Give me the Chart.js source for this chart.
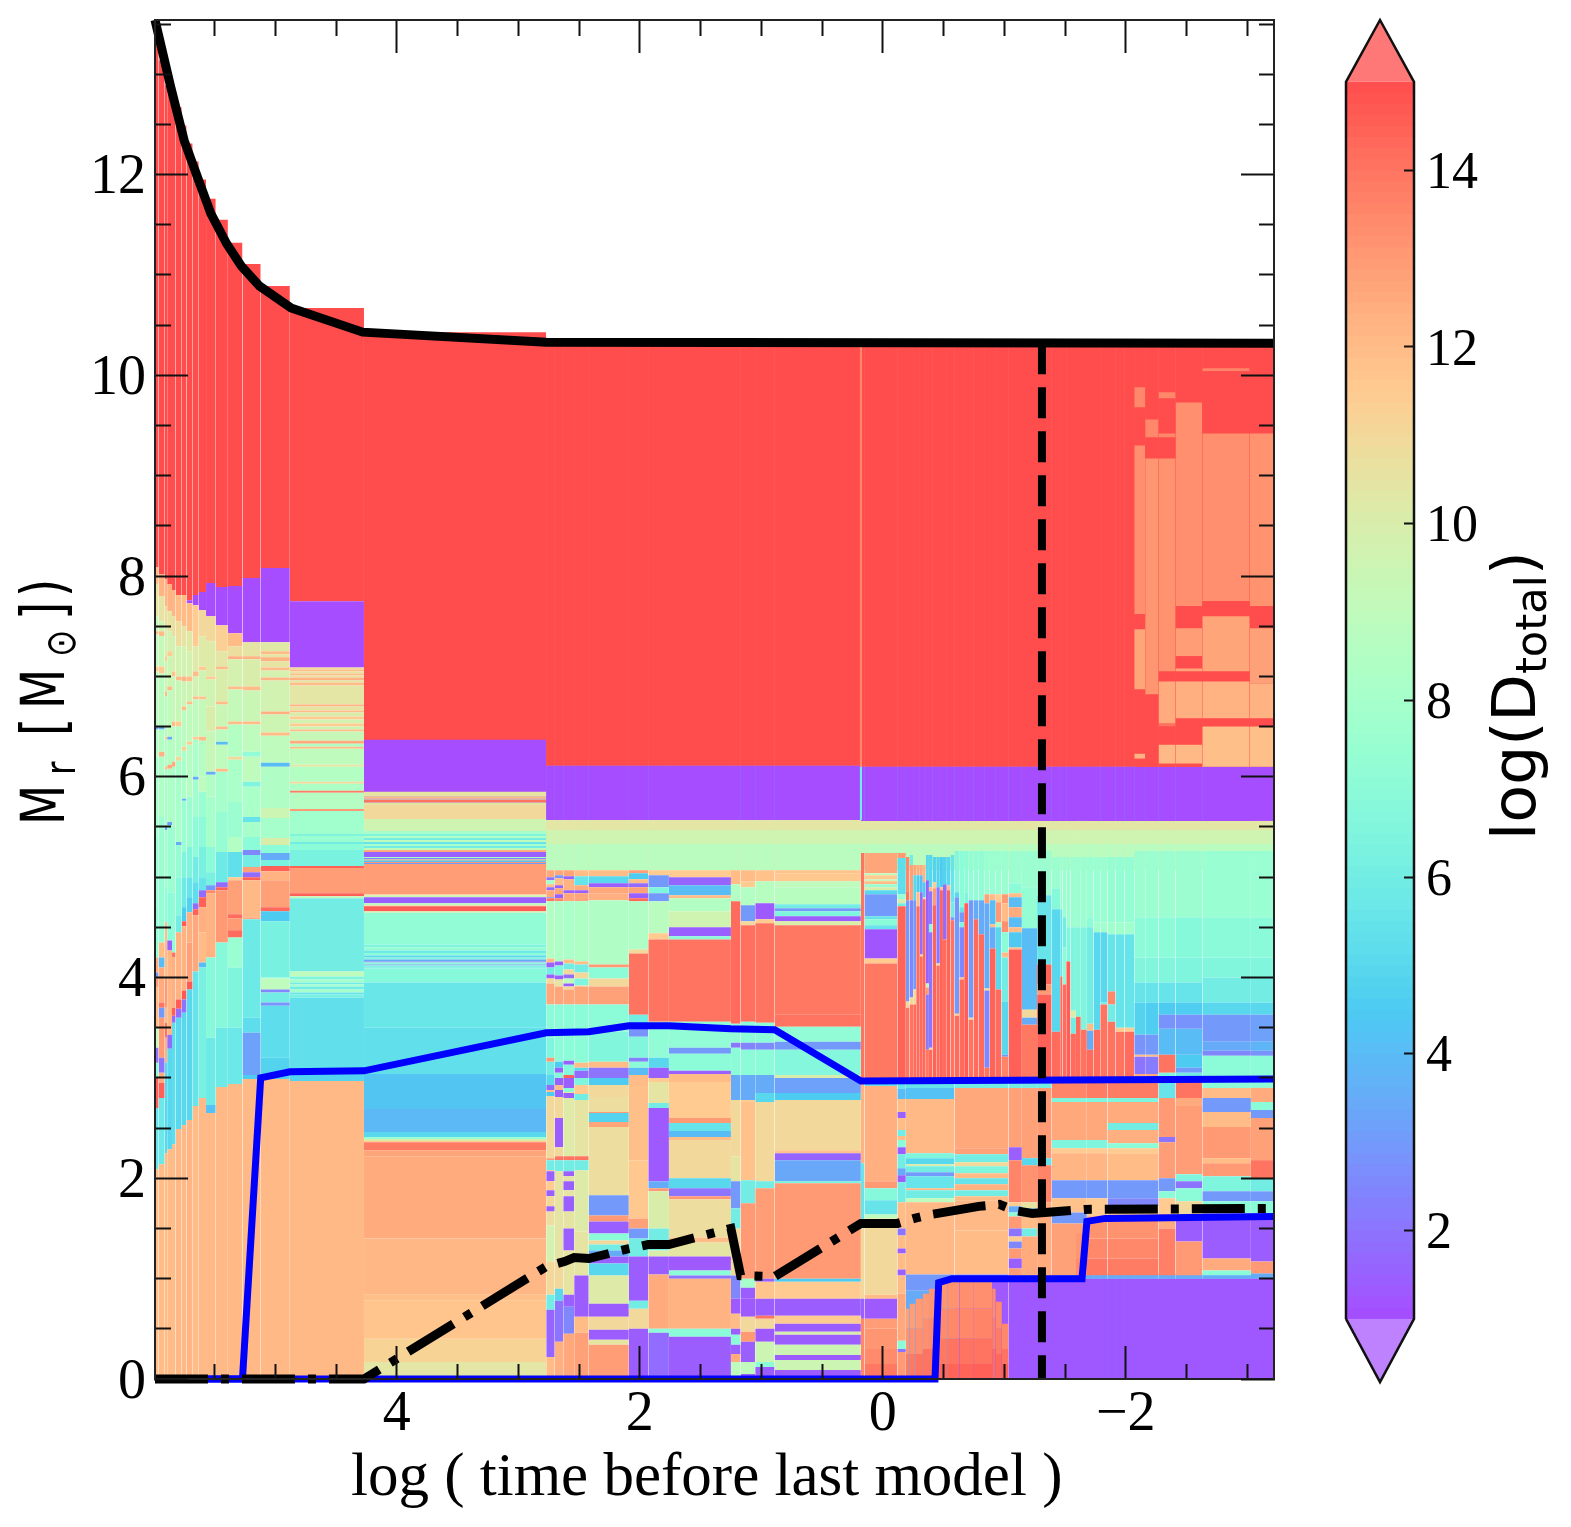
<!DOCTYPE html>
<html>
<head>
<meta charset="utf-8">
<script src="https://cdn.jsdelivr.net/npm/chart.js@4"></script>
<style>
body { margin: 0; background: #fff; }
canvas { position: absolute; top: 0; }
</style>
</head>
<body>
<canvas id="main" width="1300" height="1527" style="left:0"></canvas>
<canvas id="cbar" width="271" height="1527" style="left:1300px"></canvas>
<script>
// each block: [time from, time to, [top Mr, logD, top Mr, logD, ..., bottom Mr]]
const midEdges = [4.27, 2.77, 2.70, 2.63, 2.54, 2.42, 2.09, 1.93, 1.76, 1.25, 1.17, 1.05, 0.89, 0.18];
const rightEdges = [0.18, 0.15, -0.12, -0.19, -0.25, -0.305, -0.354, -0.41, -0.47, -0.527, -0.59, -0.67, -0.747, -0.835, -0.93, -1.035, -1.145, -1.27, -1.39, -1.46, -1.51, -1.59, -1.68, -1.79, -1.915, -1.99, -2.07, -2.165, -2.27, -2.41, -2.63, -3.03, -3.22];
const farEdges = [-1.035, -1.145, -1.27, -1.39, -1.46, -1.51, -1.59, -1.68, -1.735, -1.79, -1.85, -1.915, -1.99, -2.07, -2.165, -2.27, -2.41, -2.63, -3.03, -3.22];
const underlay = [
  [4.27, 0.18, [10.33, 14.6, 6.11, 2, 5.57, 10, 5.07]],
  [0.18, -3.22, [10.32, 14.6, 6.10, 2, 5.56, 10, 5.07]],
  [-1.035, -3.22, [1.0, 1.6, 0]]
];
const midTopBands = [10.33, 15, 6.11, 1, 5.57, 10.4, 5.47, 9.6, 5.33, 8.8, 5.07];
const rightTopBands = [10.32, 15, 6.10, 1, 5.56, 10.4, 5.47, 9.6, 5.33, 8.8, 5.07];
const floorBands = [1.05, 3.5, 1.0, 1.25, 0];

const leftColumns = [
  [5.99, 5.96, [13.54, 15, 8.09, 12, 7.92, 10.5, 7.6, 9.3, 7.45, 12, 7.42, 9, 7.1, 11.5, 7.05, 8.8, 6.5, 3, 6.47, 8.5, 6.2, 8, 5.4, 7.5, 4.7, 7.2, 4.2, 12.5, 4.05, 3, 4.0, 13, 3.9, 12, 3.5, 9, 3.3, 2, 3.15, 7, 3.0, 14.5, 2.7, 5.5, 2.09, 12, 0]],
  [5.96, 5.91, [13.14, 15, 8.02, 12.3, 7.8, 10.5, 7.55, 9.5, 7.45, 12, 7.4, 9.2, 7.1, 11.5, 7.03, 8.8, 6.5, 3.5, 6.47, 8.5, 6.25, 12.3, 6.2, 8.3, 5.6, 7.6, 5.0, 7.3, 4.35, 12, 4.2, 4, 4.1, 12.5, 3.75, 14, 3.7, 3, 3.6, 13, 3.2, 2, 3.05, 12.5, 2.95, 14.5, 2.8, 5.7, 2.14, 12, 0]],
  [5.91, 5.89, [12.89, 15, 7.97, 12.2, 7.7, 10.8, 7.5, 9.8, 7.2, 11.5, 7.15, 9.3, 6.85, 12, 6.8, 8.8, 6.4, 11.5, 6.37, 8.5, 6.1, 12, 6.07, 8, 5.5, 3, 5.47, 7.8, 4.9, 7.2, 4.55, 12, 4.0, 13, 3.7, 12, 3.55, 14, 3.4, 12.4, 3.15, 5, 2.25, 12, 0]],
  [5.89, 5.85, [12.89, 15, 7.92, 12.3, 7.65, 10.5, 7.45, 9.7, 7.25, 11.5, 7.2, 9.5, 6.9, 12, 6.86, 9, 6.4, 3.5, 6.37, 8.5, 6.12, 12.5, 6.08, 8.3, 5.55, 3, 5.52, 7.5, 4.85, 7, 4.37, 1.5, 4.27, 12.2, 3.43, 1.8, 3.29, 5, 2.29, 12, 0]],
  [5.85, 5.82, [12.67, 15, 7.86, 12.2, 7.6, 10.7, 7.4, 9.8, 7.05, 11.8, 7.0, 9.3, 6.55, 12, 6.5, 8.7, 6.15, 12.5, 6.1, 8.2, 5.5, 7.6, 4.85, 7.2, 4.25, 14, 4.2, 12.4, 3.70, 14.6, 3.62, 1.8, 3.55, 5.2, 2.34, 12, 0]],
  [5.82, 5.77, [12.67, 15, 7.81, 12, 7.55, 10.8, 7.3, 9.7, 7.0, 12, 6.96, 9.3, 6.55, 11.5, 6.5, 8.6, 6.2, 11, 6.16, 8.1, 5.35, 3.5, 5.32, 7.4, 5.0, 6.8, 4.62, 6, 4.45, 12.3, 3.78, 14.6, 3.69, 1.8, 3.6, 5, 2.49, 12.1, 0]],
  [5.77, 5.73, [12.49, 15, 7.81, 12, 7.5, 10.5, 7.3, 9.7, 7.0, 12.3, 6.95, 9.4, 6.7, 12, 6.66, 8.8, 6.3, 11.3, 6.26, 8.2, 5.78, 3.5, 5.76, 7.5, 5.25, 6.5, 5.0, 5.8, 4.7, 4.5, 4.56, 14.6, 4.51, 12.3, 3.87, 14.7, 3.78, 2, 3.65, 5, 2.53, 12.1, 0]],
  [5.73, 5.68, [12.31, 15, 7.76, 1, 7.73, 12, 7.45, 10.3, 7.25, 9.8, 7.0, 12, 6.95, 9.5, 6.75, 12, 6.72, 9, 6.35, 11.5, 6.32, 8.6, 5.8, 7.6, 5.3, 6.5, 5.0, 5.5, 4.8, 4.7, 4.65, 12.4, 4.35, 12.8, 3.96, 14.7, 3.88, 5, 2.58, 12.2, 0]],
  [5.68, 5.63, [12.13, 15, 7.81, 1, 7.71, 11.5, 7.3, 10.2, 7.05, 12, 7.0, 9.7, 6.8, 12, 6.77, 9, 6.4, 11.5, 6.37, 8.2, 6.0, 3.5, 5.97, 7.8, 5.6, 7, 5.2, 6, 4.95, 5.2, 4.74, 1.8, 4.68, 14.5, 4.62, 12.6, 4.06, 5.5, 2.72, 12, 0]],
  [5.63, 5.57, [11.95, 15, 7.84, 1, 7.66, 11, 7.4, 10.2, 7.1, 11.5, 7.06, 9.6, 6.8, 11.8, 6.77, 9.2, 6.4, 12, 6.36, 8.6, 6.0, 9, 5.85, 7.5, 5.6, 7, 5.3, 6.2, 5.0, 5.5, 4.87, 1.8, 4.80, 14.5, 4.7, 12.4, 4.45, 12, 4.15, 4, 4.1, 6.2, 2.80, 12.1, 0]],
  [5.57, 5.49, [11.76, 15, 7.93, 1, 7.60, 11, 7.35, 10.2, 7.0, 11.5, 6.97, 9.6, 6.7, 10, 6.45, 9.3, 6.05, 3.5, 6.02, 8.4, 5.8, 8, 5.3, 7, 5.05, 6.2, 4.92, 3, 4.87, 13.5, 4.84, 12.3, 4.2, 6.8, 3.4, 5.8, 2.73, 4.2, 2.65, 12.1, 0]],
  [5.49, 5.39, [11.55, 15, 7.89, 1, 7.51, 11.3, 7.25, 10.4, 7.1, 12, 7.07, 10, 6.75, 12, 6.72, 9.4, 6.5, 12, 6.47, 8.8, 6.35, 4, 6.32, 9, 6.08, 12, 6.05, 8, 5.65, 7.4, 5.25, 5.8, 4.95, 1.8, 4.9, 14.5, 4.87, 13, 4.35, 6.8, 3.5, 5.8, 2.91, 12.1, 0]],
  [5.39, 5.27, [11.32, 15, 7.90, 1, 7.43, 12, 7.3, 10.8, 7.2, 12.4, 7.17, 9.8, 6.9, 12, 6.87, 9.2, 6.55, 12, 6.52, 8.5, 6.2, 11, 6.17, 8.2, 5.75, 7.6, 5.4, 8.5, 5.25, 5.3, 5.0, 11.5, 4.97, 12.8, 4.63, 14.2, 4.59, 13, 4.47, 14.2, 4.4, 7.5, 4.1, 6.5, 3.5, 5.7, 2.94, 12.1, 0]],
  [5.27, 5.12, [11.11, 15, 7.98, 1, 7.34, 10.5, 7.2, 12.3, 7.17, 10, 6.9, 12, 6.86, 9.4, 6.55, 12, 6.52, 9, 6.25, 7.2, 6.2, 9, 5.95, 6.5, 5.9, 8.2, 5.6, 5.5, 5.55, 8, 5.4, 7, 5.27, 2.5, 5.22, 6, 5.1, 12.8, 5.05, 1.8, 5.0, 14.5, 4.97, 12.1, 4.6, 12.5, 4.58, 5.8, 3.6, 5.2, 3.45, 3.2, 3.03, 4.5, 2.99, 12.1, 0]],
  [5.12, 4.88, [10.89, 15, 8.08, 1, 7.34, 10.3, 7.25, 12, 7.22, 10.5, 7.19, 12.3, 7.15, 10.5, 7.09, 12, 7.06, 9.8, 6.99, 12.2, 6.96, 9.7, 6.65, 12.4, 6.62, 9.5, 6.44, 12, 6.41, 9, 6.14, 4, 6.10, 8.4, 5.69, 9.5, 5.59, 8, 5.39, 10, 5.32, 7, 5.24, 3.5, 5.17, 6.2, 5.11, 14.5, 5.06, 12.3, 4.97, 12.8, 4.70, 14.3, 4.66, 4.5, 4.56, 6.2, 4.0, 7, 3.99, 9, 3.88, 2.5, 3.85, 6, 3.75, 2.8, 3.72, 5.2, 3.2, 4.8, 2.99, 12.1, 0]],
  [4.88, 4.27, [10.67, 15, 7.75, 1, 7.09, 11, 7.07, 12, 7.05, 10.5, 7.03, 12, 7.01, 10.5, 6.99, 12.3, 6.96, 10.3, 6.94, 12, 6.91, 10.4, 6.72, 12.3, 6.70, 10.5, 6.66, 12, 6.64, 10, 6.60, 11.5, 6.57, 9.7, 6.53, 11.5, 6.50, 9.5, 6.47, 12, 6.45, 9.3, 6.36, 12.5, 6.33, 8.5, 6.30, 12, 6.28, 9, 6.12, 10.5, 6.10, 8.5, 5.95, 11, 5.93, 8.3, 5.86, 13.8, 5.84, 8.6, 5.68, 13, 5.66, 7.8, 5.43, 6.5, 5.41, 7.5, 5.35, 6, 5.33, 7, 5.27, 6.3, 5.11, 14.5, 5.09, 12.9, 4.84, 14.5, 4.81, 9, 4.79, 6, 4.06, 9, 4.01, 6.5, 3.98, 8, 3.95, 6, 3.93, 8, 3.91, 6, 3.88, 8, 3.85, 5.5, 3.83, 6.2, 3.80, 5.3, 3.04, 4.8, 2.97, 12.1, 0]],
  [4.27, 2.77, [10.43, 15, 6.37, 1, 5.85, 10.5, 5.80, 12, 5.78, 9.8, 5.77, 14, 5.745, 10.5, 5.72, 11, 5.58, 9.6, 5.46, 8, 5.43, 6.5, 5.41, 8.5, 5.39, 6, 5.37, 9, 5.35, 5.5, 5.33, 8, 5.31, 6, 5.29, 9, 5.27, 12.5, 5.25, 1.5, 5.20, 8, 5.19, 2.5, 5.175, 12, 5.165, 4, 5.15, 13, 5.14, 3, 5.13, 12.9, 4.83, 11.5, 4.82, 9.5, 4.80, 1.5, 4.74, 9, 4.72, 11, 4.71, 14.6, 4.66, 10, 4.645, 7.2, 4.33, 6.5, 4.30, 7.3, 4.27, 5.8, 4.245, 7, 4.22, 5, 4.20, 6.5, 4.18, 3.5, 4.16, 2.5, 4.15, 7, 4.13, 3, 4.12, 6.5, 4.10, 5.5, 4.09, 6.8, 3.95, 5.6, 3.5, 5.3, 3.04, 4.3, 2.69, 3.9, 2.46, 5, 2.41, 7.5, 2.39, 10, 2.37, 11.5, 2.36, 13.8, 2.28, 12.7, 2.22, 12.5, 1.40, 12.15, 0.84, 11.9, 0.78, 11.7, 0.40, 11.2, 0.17, 10.4, 0]]
];

const midColumns = [
  [2.77, 2.70, [5.07, 12.6, 5.0, 2, 4.97, 8, 4.93, 12, 4.9, 1.8, 4.87, 12.6, 4.80, 3, 4.79, 14, 4.76, 8.5, 4.19, 12, 4.15, 1.5, 4.10, 6, 4.03, 1.5, 3.99, 11, 3.94, 12.6, 3.73, 7, 3.4, 6.5, 3.20, 13, 3.16, 6, 3.03, 5, 2.93, 1.8, 2.88, 12, 2.86, 4.5, 2.82, 11, 2.2, 13, 2.18, 6, 2.08, 12, 2.07, 1.5, 1.97, 11.5, 1.88, 1.5, 1.82, 11, 1.72, 1.5, 1.67, 10.8, 1.53, 9.8, 1.17, 11, 0.84, 6, 0.69, 1.6, 0.22, 12, 0]],
  [2.70, 2.63, [5.07, 12.6, 5.02, 3, 4.99, 12, 4.92, 1.5, 4.89, 12.7, 4.83, 1.5, 4.79, 13.5, 4.76, 8.3, 4.16, 1.5, 4.12, 6.5, 4.02, 1.5, 3.98, 10.5, 3.91, 12.7, 3.73, 7, 3.16, 4.5, 3.1, 1.5, 3.05, 6.8, 3.0, 1.5, 2.93, 12, 2.88, 1.5, 2.81, 11, 2.60, 1.4, 2.31, 11, 2.22, 14, 2.18, 6, 2.07, 10.5, 1.20, 11, 0.90, 5, 0.78, 2, 0.37, 12.4, 0]],
  [2.63, 2.54, [5.07, 12.7, 5.01, 1.5, 4.98, 12.3, 4.87, 1.5, 4.84, 12.6, 4.76, 8.2, 4.18, 12, 4.14, 6, 4.08, 11, 4.03, 1.8, 3.99, 9, 3.94, 1.5, 3.91, 11, 3.88, 12.7, 3.73, 7, 3.17, 1.5, 3.13, 6.8, 3.03, 14.5, 3.0, 1.5, 2.9, 7, 2.86, 10.5, 2.85, 1.5, 2.8, 10.2, 2.22, 14, 2.18, 6, 2.07, 1.5, 2.02, 10.5, 1.97, 1.5, 1.88, 10.5, 1.82, 1.5, 1.67, 10.5, 1.50, 1.5, 1.28, 10.5, 0.84, 1.5, 0.72, 2.5, 0.45, 12.6, 0]],
  [2.54, 2.42, [5.07, 12, 5.01, 5.5, 4.92, 12.5, 4.87, 1.5, 4.84, 12.7, 4.76, 8.3, 4.16, 12, 4.13, 6, 4.05, 11, 3.99, 6.5, 3.92, 11, 3.91, 12.7, 3.73, 7, 3.15, 12, 3.1, 5, 3.07, 1.8, 3.0, 6.5, 2.93, 11.5, 2.84, 6, 2.78, 10.5, 2.22, 14, 2.18, 6, 2.08, 10.2, 1.47, 10.5, 1.03, 1.4, 0.62, 12, 0.46, 12.8, 0]],
  [2.42, 2.09, [5.07, 12, 5.01, 5, 4.94, 1.5, 4.90, 12.6, 4.84, 12.4, 4.77, 8.4, 4.13, 13, 4.10, 7, 3.99, 11, 3.91, 12.8, 3.73, 7, 3.46, 6.6, 3.16, 12, 3.10, 2, 3.0, 4.5, 2.93, 11, 2.81, 10.8, 2.66, 13, 2.65, 4.8, 2.56, 12.7, 2.51, 10.8, 1.83, 3, 1.63, 13, 1.57, 1.5, 1.45, 7, 1.38, 11, 1.34, 6, 1.28, 3.5, 1.22, 1.5, 1.15, 5, 1.03, 10.2, 0.75, 1.4, 0.62, 11, 0.49, 1.4, 0.39, 10.5, 0.34, 12.9, 0]],
  [2.09, 1.93, [5.07, 12.9, 5.04, 4.5, 4.98, 12, 4.94, 1.8, 4.90, 12.8, 4.84, 1.5, 4.79, 14.3, 4.76, 8.4, 4.28, 11, 4.24, 14, 3.63, 6, 3.5, 2.8, 3.41, 6.6, 3.2, 2.3, 3.16, 7, 3.1, 4, 3.03, 12, 2.93, 11.9, 2.18, 11.6, 1.60, 12.8, 1.5, 3, 1.40, 6, 1.22, 1.4, 0.78, 6, 0.70, 11, 0.50, 1.4, 0]],
  [1.93, 1.76, [5.07, 11.5, 5.02, 3, 4.9, 6.5, 4.84, 3, 4.76, 8.8, 4.44, 11.5, 4.38, 14, 3.56, 7.2, 3.2, 5, 3.1, 1.5, 3.0, 11.5, 2.96, 10.5, 2.75, 6, 2.7, 1.3, 1.97, 3.5, 1.9, 13, 1.87, 10, 1.5, 6, 1.28, 10, 1.22, 1.4, 1.04, 12.5, 0.50, 7, 0.46, 1.8, 0]],
  [1.76, 1.25, [5.07, 11.5, 5.0, 1.6, 4.92, 4, 4.82, 12, 4.79, 8.5, 4.66, 9.6, 4.50, 1.5, 4.41, 7, 4.38, 14, 3.56, 7.2, 3.3, 3, 3.24, 7, 3.07, 1.5, 3.04, 12, 2.96, 11.5, 2.6, 13, 2.55, 5.5, 2.47, 4, 2.41, 12, 2.38, 11, 2.0, 5, 1.9, 2, 1.82, 13, 1.79, 10.8, 1.41, 12, 1.36, 10.5, 1.22, 1.3, 1.08, 7, 1.03, 2, 1.0, 12.3, 0.50, 7, 0.42, 1.4, 0]],
  [1.25, 1.17, [5.07, 12, 4.93, 8.5, 4.76, 14.2, 3.54, 7.2, 3.35, 2, 3.3, 7, 3.03, 3.5, 2.78, 11, 2.22, 10.5, 1.97, 3, 1.70, 6, 1.5, 11, 1.03, 2.5, 0.80, 1.3, 0.65, 12, 0.50, 1.4, 0.44, 7, 0.34, 1.5, 0.25, 12.5, 0.17, 9, 0]],
  [1.17, 1.05, [5.07, 12, 4.96, 11.5, 4.9, 8.5, 4.72, 3, 4.56, 11, 4.52, 14.1, 3.56, 7, 3.35, 2.4, 3.28, 7, 3.03, 3.5, 2.78, 11.5, 2.76, 11.8, 1.98, 6, 1.75, 13, 1.0, 8, 0.91, 1.4, 0.80, 1.3, 0.62, 11, 0.47, 13, 0.37, 1.5, 0.28, 1.5, 0.17, 9, 0.05, 1.5, 0]],
  [1.05, 0.89, [5.07, 11.8, 4.96, 8.7, 4.74, 1.3, 4.58, 11.5, 4.54, 14, 3.55, 7, 3.35, 2.6, 3.28, 7, 3.03, 3.5, 2.85, 5, 2.76, 11, 1.97, 6, 1.90, 12.9, 1.0, 1.5, 0.97, 11.7, 0.80, 1.4, 0.63, 14, 0.60, 11, 0.50, 1.3, 0.37, 9.5, 0.17, 7, 0.12, 1.4, 0.03, 10, 0]],
  [0.89, 0.18, [5.07, 11.8, 5.04, 11.6, 4.96, 9, 4.90, 8.7, 4.73, 6, 4.69, 3, 4.66, 6.5, 4.61, 1.4, 4.56, 10, 4.52, 13.9, 3.63, 14, 3.51, 7.2, 3.36, 3, 3.28, 6.7, 3.03, 10, 3.0, 3.2, 2.85, 4.5, 2.78, 11, 2.28, 11.8, 2.25, 1.6, 2.18, 3.4, 1.97, 6.2, 1.95, 13, 1.0, 4.5, 0.97, 11.5, 0.80, 1.4, 0.63, 11.5, 0.55, 1.4, 0.47, 10, 0.44, 1.4, 0.34, 9.5, 0.24, 1.4, 0.19, 9.5, 0.09, 1.4, 0.02, 9, 0]]
];

const spikeColumns = [
  [0.18, 0.15, [5.24, 14, 3.0]],
  [0.15, -0.12, [5.24, 12.7, 5.04, 9, 5.02, 11.5, 4.98, 9.5, 4.96, 12, 4.93, 7.5, 4.9, 10, 4.87, 5, 4.83, 3, 4.61, 5.5, 4.58, 7, 4.52, 5.5, 4.48, 1.2, 4.19, 11.5, 4.14, 13.9, 2.99]],
  [-0.12, -0.19, [5.24, 13, 5.19, 5.2, 4.83, 7.5, 4.78, 10, 4.74, 6, 4.71, 14.4, 2.99]],
  [-0.19, -0.22, [5.2, 13.5, 4.86, 14, 4.77, 3, 3.76, 11, 3.7, 14, 3.0]],
  [-0.22, -0.25, [5.22, 6, 5.12, 12.8, 4.77, 2.5, 3.8, 11, 3.73, 14, 3.0]],
  [-0.25, -0.275, [5.12, 12.7, 5.02, 5, 4.77, 3, 3.88, 11, 3.73, 14.2, 3.0]],
  [-0.275, -0.305, [5.12, 12.5, 5.02, 4.5, 4.85, 12, 4.71, 14.2, 3.0]],
  [-0.305, -0.33, [5.12, 12.5, 5.02, 4, 4.85, 1.8, 4.23, 11, 4.21, 14.2, 3.0]],
  [-0.33, -0.354, [5.12, 12.2, 4.95, 4.5, 4.80, 11.5, 4.78, 14.3, 3.0]],
  [-0.354, -0.38, [5.22, 5, 4.97, 1.5, 3.94, 9, 3.9, 13, 3.83, 2.2, 3.28, 13.9, 3.0]],
  [-0.38, -0.41, [5.22, 5, 4.90, 12, 4.86, 2, 4.53, 7, 4.45, 2, 3.30, 11, 3.28, 14.2, 3.0]],
  [-0.41, -0.44, [5.2, 4.8, 4.95, 11.5, 4.89, 13, 4.72, 14.4, 3.0]],
  [-0.44, -0.47, [5.2, 4.8, 4.9, 2, 4.14, 11, 4.12, 14.2, 3.0]],
  [-0.47, -0.495, [5.2, 4.5, 4.9, 12, 4.87, 14.4, 3.0]],
  [-0.495, -0.527, [5.2, 4.8, 4.93, 1.8, 4.38, 14.2, 3.0]],
  [-0.527, -0.557, [5.2, 5, 4.92, 12, 4.87, 14.4, 3.0]],
  [-0.557, -0.59, [5.22, 5.5, 4.75, 6, 4.6, 3, 4.57, 14, 3.0]],
  [-0.59, -0.63, [5.26, 6.7, 4.85, 5, 4.8, 3, 3.64, 11.5, 3.62, 14.2, 3.0]],
  [-0.63, -0.67, [5.26, 7, 4.7, 5.5, 4.65, 3, 4.55, 6.5, 4.50, 2.5, 4.0, 12, 3.98, 14.2, 3.0]],
  [-0.67, -0.705, [5.26, 7, 4.85, 6.5, 4.74, 14.6, 3.0]],
  [-0.705, -0.747, [5.26, 7.2, 4.77, 3, 3.6, 11, 3.58, 14, 3.0]],
  [-0.747, -0.788, [5.26, 7.2, 4.77, 3.5, 4.58, 14.2, 3.0]],
  [-0.788, -0.835, [5.26, 7.2, 4.77, 3.5, 4.43, 14.2, 3.0]],
  [-0.835, -0.88, [5.26, 7.5, 4.83, 12.8, 4.74, 3.5, 3.89, 11, 3.87, 2.5, 3.1, 14, 3.0]],
  [-0.88, -0.93, [5.26, 7.5, 4.83, 12, 4.77, 4, 4.53, 12, 4.5, 3.5, 4.29, 14.4, 3.0]],
  [-0.93, -0.977, [5.26, 7.5, 4.83, 11.5, 4.75, 13, 4.55, 8, 4.5, 5, 3.88, 14.2, 3.0]],
  [-0.977, -1.035, [5.26, 7.6, 4.83, 13, 4.74, 12, 4.56, 13.3, 4.45, 7, 4.25, 12, 4.2, 6, 3.76, 5, 3.23, 3, 3.21, 13.6, 3.0]],
  [-1.035, -1.145, [5.26, 7.6, 4.94, 7, 4.84, 12, 4.8, 4, 4.7, 12.5, 4.6, 4, 4.5, 12, 4.45, 4.4, 4.3, 12, 4.28, 14.5, 3.0]],
  [-1.145, -1.27, [5.26, 7.6, 4.9, 7.3, 4.49, 4, 3.68, 11, 3.6, 3.5, 3.53, 13.9, 3.0]],
  [-1.27, -1.39, [5.26, 7.6, 4.82, 5.5, 4.13, 14.4, 3.93, 13, 3.83, 14.5, 3.0]],
  [-1.39, -1.46, [5.2, 7.6, 4.89, 6.8, 4.68, 5, 3.46, 14.2, 3.0]],
  [-1.46, -1.48, [5.2, 7.6, 4.68, 5.5, 4.01, 14.2, 3.0]],
  [-1.48, -1.51, [5.2, 7.6, 4.6, 6, 4.3, 7, 3.93, 14.2, 3.0]],
  [-1.51, -1.545, [5.2, 7.6, 4.5, 6.5, 4.16, 14.6, 3.0]],
  [-1.545, -1.59, [5.2, 7.6, 4.5, 6.5, 3.67, 10, 3.6, 6, 3.44, 14.2, 3.0]],
  [-1.59, -1.63, [5.2, 7.6, 4.5, 6.5, 3.61, 14.2, 3.0]],
  [-1.63, -1.68, [5.2, 7.6, 4.5, 6.5, 3.48, 14, 3.0]],
  [-1.68, -1.735, [5.2, 7.5, 4.6, 7, 4.5, 6, 3.54, 12, 3.47, 3.5, 3.28, 14.2, 3.0]],
  [-1.735, -1.79, [5.2, 7.5, 4.55, 7.8, 4.45, 5, 3.48, 14.2, 3.0]],
  [-1.79, -1.85, [5.2, 7.5, 4.55, 7.8, 4.45, 5, 3.75, 6, 3.73, 14, 3.0]],
  [-1.85, -1.915, [5.2, 7.4, 4.55, 7.8, 4.43, 5.5, 3.86, 13.5, 3.73, 6, 3.56, 14, 3.0]],
  [-1.915, -1.99, [5.2, 7.3, 4.55, 7.8, 4.43, 5.5, 3.5, 11.5, 3.46, 14, 3.0]],
  [-1.99, -2.07, [5.2, 7.3, 4.55, 7.8, 4.43, 5.5, 3.5, 11.5, 3.46, 14.2, 3.0]],
  [-2.07, -2.165, [5.26, 7.6, 4.6, 7, 4.2, 6.6, 3.95, 5.5, 3.75, 4.8, 3.43, 2.8, 3.23, 12, 3.21, 2, 3.04, 12.5, 3.0]],
  [-2.165, -2.27, [5.26, 7.6, 4.6, 7, 4.2, 6.6, 3.95, 5.5, 3.75, 4.6, 3.43, 3, 3.23, 12, 3.21, 2.2, 3.04, 12.5, 3.0]],
  [-2.27, -2.41, [5.26, 7.6, 4.6, 7, 4.2, 6.6, 3.95, 5.5, 3.75, 4.5, 3.63, 2.8, 3.49, 4, 3.23, 14, 3.05, 6.5, 3.0]],
  [-2.41, -2.63, [5.26, 7.6, 4.6, 6.8, 4.2, 6.5, 3.95, 5.5, 3.75, 4.6, 3.63, 2.8, 3.49, 4, 3.23, 4.5, 3.1, 3, 3.05, 6, 3.0]],
  [-2.63, -3.03, [5.26, 7.5, 4.6, 6.9, 4.2, 6.6, 4.0, 6, 3.75, 5, 3.63, 3, 3.36, 3.5, 3.27, 2.5, 3.22, 7, 3.0]],
  [-3.03, -3.22, [5.26, 7.5, 4.6, 6.9, 4.2, 6.6, 4.0, 6, 3.75, 5, 3.63, 3.2, 3.36, 3.8, 3.27, 2.8, 3.22, 7, 3.0]]
];

const lowerColumns = [
  [0.18, 0.15, [3.0, 12.3, 2.15, 5.5, 1.5, 11, 0.8, 1.5, 0.6, 13.5, 0]],
  [0.15, -0.12, [2.99, 5.5, 2.92, 12.4, 1.97, 13, 1.90, 6.8, 1.78, 5.5, 1.64, 9, 1.6, 11, 0.84, 12, 0.80, 1.3, 0.60, 12.9, 0.5, 13.1, 0.3, 13.4, 0.15, 13.9, 0]],
  [-0.12, -0.19, [2.99, 5.5, 2.89, 4, 2.79, 12, 2.66, 1.5, 2.6, 12, 2.48, 6, 2.42, 12, 2.38, 7, 2.31, 1.5, 2.24, 6, 2.1, 3.5, 2.03, 1.5, 1.96, 6, 1.76, 12, 1.5, 2, 1.43, 12, 1.3, 1.5, 1.25, 12, 1.09, 1.5, 1.03, 12, 0.85, 12.6, 0.38, 7, 0.3, 2, 0.27, 13, 0]],
  [-0.19, -0.59, [2.99, 5.5, 2.9, 4.2, 2.79, 12.1, 2.25, 6.5, 2.2, 5, 2.14, 10, 2.12, 6, 2.06, 3, 2.02, 5.5, 1.9, 12, 1.88, 6, 1.8, 9, 1.76, 12.1, 1.04, 3, 0.88, 3.5, 0]],
  [-0.59, -1.035, [2.99, 6, 2.9, 12.6, 2.3, 12.8, 2.24, 6, 2.16, 11, 2.12, 6.5, 2.05, 12, 2.0, 5.5, 1.94, 12.3, 1.88, 6, 1.82, 12, 1.78, 12.1, 1.48, 12, 1.04, 2.5, 0.97, 1.3, 0]],
  [-0.19, -0.22, [0.7, 12.8, 0.5, 13.2, 0.25, 13.8, 0]],
  [-0.22, -0.27, [0.75, 12.9, 0.5, 13.3, 0.25, 13.9, 0]],
  [-0.27, -0.33, [0.8, 13, 0.5, 13.3, 0.25, 14, 0]],
  [-0.33, -0.38, [0.85, 13, 0.6, 13.3, 0.3, 14, 0]],
  [-0.38, -0.44, [0.9, 13.1, 0.6, 13.4, 0.3, 14, 0]],
  [-0.44, -0.53, [0.96, 13.1, 0.7, 13.4, 0.4, 13.9, 0.15, 14.3, 0]],
  [-0.53, -0.63, [0.97, 13.2, 0.7, 13.5, 0.4, 14, 0.15, 14.4, 0]],
  [-0.63, -0.75, [0.97, 13.3, 0.7, 13.5, 0.4, 14, 0.15, 14.4, 0]],
  [-0.75, -0.90, [0.97, 13.3, 0.7, 13.6, 0.4, 14, 0.15, 14.5, 0]],
  [-0.90, -0.93, [0.90, 13.4, 0.6, 13.7, 0.3, 14.2, 0]],
  [-0.93, -0.98, [0.77, 13.4, 0.5, 13.8, 0.25, 14.3, 0]],
  [-0.98, -1.035, [0.55, 13.5, 0.3, 14, 0.15, 14.5, 0]],
  [-1.035, -1.145, [2.99, 6, 2.9, 12.8, 2.31, 1.5, 2.18, 13.6, 1.76, 11.5, 1.72, 3.5, 1.66, 7, 1.62, 13, 1.5, 2, 1.42, 11.5, 1.37, 2.5, 1.3, 13, 1.2, 1.5, 1.1, 13, 1.03, 12, 1.0]],
  [-1.145, -1.27, [2.99, 6, 2.9, 12.8, 2.2, 5, 2.13, 13.2, 1.76, 10.5, 1.7, 4, 1.62, 12, 1.5, 6, 1.42, 12.5, 1.03, 3, 1.0]],
  [-1.27, -1.39, [2.99, 6, 2.9, 13, 2.2, 5.5, 2.13, 13.6, 1.76, 12.5, 1.0]],
  [-1.39, -1.68, [2.99, 13.6, 2.8, 6.5, 2.76, 12.6, 2.38, 6.5, 2.3, 11.5, 2.25, 12.2, 1.98, 3, 1.8, 11.8, 1.66, 3, 1.55, 12.8, 1.03, 3.5, 1.0]],
  [-1.59, -1.68, [1.45, 13.1, 1.2, 13.4, 1.03, 3.5, 1.0]],
  [-1.68, -1.85, [2.99, 13.8, 2.8, 6.5, 2.76, 12.6, 2.38, 6.5, 2.3, 11.5, 2.25, 12.2, 1.98, 3, 1.8, 11.5, 1.62, 13.2, 1.4, 13.5, 1.2, 13.9, 1.03, 3.5, 1.0]],
  [-1.85, -2.27, [2.99, 13.8, 2.8, 6.5, 2.76, 12.5, 2.55, 6, 2.48, 12.4, 2.35, 7, 2.3, 11.5, 2.25, 12, 1.98, 3, 1.8, 2.5, 1.72, 11.5, 1.62, 13.2, 1.4, 13.5, 1.2, 13.8, 1.03, 3.5, 1.0]],
  [-2.27, -2.41, [2.99, 5.5, 2.8, 13, 2.41, 2, 2.36, 12.9, 2.0, 3, 1.87, 7, 1.8, 11.5, 1.62, 12.5, 1.5, 13.7, 1.03, 3.5, 1.0]],
  [-2.41, -2.63, [2.99, 14, 2.8, 12.5, 2.72, 12.9, 2.04, 6.5, 1.97, 2, 1.9, 7, 1.77, 11, 1.6, 1.4, 1.37, 13, 1.03, 3.5, 1.0]],
  [-2.63, -3.03, [2.99, 7, 2.9, 12, 2.8, 3, 2.66, 12, 2.51, 13, 2.2, 12, 2.15, 13, 2.02, 6.5, 1.87, 3, 1.77, 7, 1.65, 1.4, 1.2, 12.5, 1.08, 7, 1.03, 3.5, 1.0]],
  [-3.03, -3.22, [2.99, 7, 2.9, 12.5, 2.76, 7, 2.68, 3, 2.6, 12.8, 2.18, 14, 2.0, 6, 1.87, 3, 1.77, 7, 1.65, 1.4, 1.17, 13, 1.05, 3.5, 1.0]]
];

const upperRightColumns = [
  [-2.07, -2.16, [9.88, 13.5, 9.68, 15, 9.30, 13.3, 7.62, 15, 7.47, 12.7, 6.87, 15, 6.73, 15, 6.23, 12.3, 6.18, 15, 6.10]],
  [-2.16, -2.27, [9.56, 13.5, 9.38, 15, 9.17, 13.1, 6.82, 15, 6.10]],
  [-2.27, -2.41, [9.83, 13.5, 9.77, 15, 9.42, 13.5, 9.38, 15, 9.17, 13.2, 7.05, 15, 6.95, 12.5, 6.53, 14, 6.50, 15, 6.32, 12.1, 6.13, 15, 6.10]],
  [-2.41, -2.63, [9.73, 13.3, 7.70, 15, 7.48, 12.9, 7.20, 15, 7.08, 12.7, 7.05, 15, 6.95, 12.4, 6.58, 15, 6.32, 12.1, 6.13, 15, 6.10]],
  [-2.63, -3.02, [10.07, 13.6, 10.04, 15, 9.42, 13.3, 7.75, 15, 7.60, 12.7, 7.05, 15, 6.95, 12.3, 6.58, 15, 6.50, 11.9, 6.10]],
  [-3.02, -3.22, [9.42, 13.2, 7.70, 15, 7.48, 12.8, 6.93, 12.3, 6.58, 15, 6.50, 11.9, 6.10]]
];

const seamLine = [[0.19, 0.17, [10.32, 13.5, 6.10, 6, 5.57]]];

const outerX = [5.99, 5.86, 5.75, 5.63, 5.53, 5.40, 5.28, 5.13, 4.87, 4.28, 2.77, -3.22];
const outerY = [13.54, 12.87, 12.34, 11.94, 11.61, 11.31, 11.09, 10.89, 10.67, 10.43, 10.33, 10.32];
const heliumX = [5.99, 5.27, 5.12, 4.88, 4.27, 2.77, 2.42, 2.09, 1.76, 1.25, 0.89, 0.18, -3.22];
const heliumY = [0, 0, 3.0, 3.06, 3.07, 3.45, 3.46, 3.52, 3.52, 3.49, 3.48, 2.97, 2.99];
const ironX = [5.99, -0.43, -0.46, -0.57, -1.64, -1.68, -1.83, -3.22];
const ironY = [0, 0, 0.96, 1.0, 1.0, 1.57, 1.6, 1.62];
const coreX = [5.99, 4.27, 2.77, 2.62, 2.54, 2.42, 2.09, 1.93, 1.76, 1.25, 1.17, 0.89, 0.18, -0.12, -0.26, -0.40, -0.55, -0.79, -0.96, -1.08, -1.23, -1.66, -3.22];
const coreY = [0, 0, 1.12, 1.17, 1.21, 1.20, 1.30, 1.34, 1.34, 1.50, 1.03, 1.02, 1.55, 1.55, 1.60, 1.64, 1.67, 1.72, 1.74, 1.68, 1.65, 1.69, 1.70];
const markerX = [-1.31, -1.31];
const markerY = [10.32, 0];

const colorbarLevels = [1, 1.125, 1.25, 1.375, 1.5, 1.625, 1.75, 1.875, 2, 2.125, 2.25, 2.375, 2.5, 2.625, 2.75, 2.875, 3, 3.125, 3.25, 3.375, 3.5, 3.625, 3.75, 3.875, 4, 4.125, 4.25, 4.375, 4.5, 4.625, 4.75, 4.875, 5, 5.125, 5.25, 5.375, 5.5, 5.625, 5.75, 5.875, 6, 6.125, 6.25, 6.375, 6.5, 6.625, 6.75, 6.875, 7, 7.125, 7.25, 7.375, 7.5, 7.625, 7.75, 7.875, 8, 8.125, 8.25, 8.375, 8.5, 8.625, 8.75, 8.875, 9, 9.125, 9.25, 9.375, 9.5, 9.625, 9.75, 9.875, 10, 10.125, 10.25, 10.375, 10.5, 10.625, 10.75, 10.875, 11, 11.125, 11.25, 11.375, 11.5, 11.625, 11.75, 11.875, 12, 12.125, 12.25, 12.375, 12.5, 12.625, 12.75, 12.875, 13, 13.125, 13.25, 13.375, 13.5, 13.625, 13.75, 13.875, 14, 14.125, 14.25, 14.375, 14.5, 14.625, 14.75, 14.875, 15];

const serif = "'Liberation Serif', serif";
const sans = "'DejaVu Sans', sans-serif";

// rainbow colormap, alpha 0.7 over white
function bandColor(v) {
	var t = Math.min(1, Math.max(0, (v - 1) / 14));
	var r = Math.min(1, Math.abs(2 * t - 0.5));
	var g = Math.sin(Math.PI * t);
	var b = Math.cos(Math.PI * t / 2);
	var mix = function (c) { return Math.round((0.7 * c + 0.3) * 255); };
	return "rgb(" + mix(r) + "," + mix(g) + "," + mix(b) + ")";
}

function bandDatasets(blocks, xID, yID) {
	var out = [];
	blocks.forEach(function (block) {
		var bands = block[2];
		for (var i = 0; i + 2 < bands.length; i += 2) {
			out.push({
				data: [{ x: block[0], y: bands[i] }, { x: block[1], y: bands[i] }],
				fill: { value: bands[i + 2] },
				backgroundColor: bandColor(bands[i + 1]),
				borderWidth: 0,
				pointRadius: 0,
				xAxisID: xID,
				yAxisID: yID,
			});
		}
	});
	return out;
}

function columnsFrom(edges, bands) {
	var out = [];
	for (var i = 0; i < edges.length - 1; i++) out.push([edges[i], edges[i + 1], bands]);
	return out;
}

function lineDataset(xs, ys, color, width, dash) {
	return {
		data: xs.map(function (x, i) { return { x: x, y: ys[i] }; }),
		borderColor: color,
		borderWidth: width,
		borderDash: dash,
		borderCapStyle: "butt",
		borderJoinStyle: "miter",
		pointRadius: 0,
		fill: false,
		clip: 12,
		xAxisID: "x",
		yAxisID: "y",
	};
}

// ticks: 2 units major, 0.5 units short; short ones are cut by a dash from the long length
function axis(position, isX, showLabels) {
	var innerFirst = position === "left" || position === "top";
	var opts = {
		type: "linear",
		position: position,
		axis: isX ? "x" : "y",
		min: isX ? -3.22 : 0,
		max: isX ? 5.99 : 13.54,
		reverse: isX,
		border: { display: true, color: "#222", width: 2, z: 1 },
		grid: {
			drawOnChartArea: false,
			drawTicks: true,
			tickLength: -33,
			tickWidth: 2,
			tickColor: "#111",
			z: 1,
			tickBorderDash: function (ctx) {
				if (ctx.tick && ctx.tick.value % 2 === 0) return [];
				return innerFirst ? [0, 17, 16, 100] : [16, 100];
			},
		},
		ticks: {
			display: showLabels,
			stepSize: 0.5,
			includeBounds: false,
			autoSkip: false,
			maxRotation: 0,
			padding: 33 + (isX ? 3 : 9),
			labelOffset: isX ? 0 : 4,
			color: "#000",
			z: 1,
			font: { family: serif, size: 56 },
			callback: function (v) {
				if (v % 2 !== 0) return "";
				return v < 0 ? "\u2212" + Math.abs(v) : String(v);
			},
		},
		afterFit: function (s) {
			if (position === "left") s.width = 155;
			if (position === "right") s.width = 26;
			if (position === "top") s.height = 20;
			if (position === "bottom") s.height = 148;
			s.paddingLeft = s.paddingRight = s.paddingTop = s.paddingBottom = 0;
		},
	};
	return opts;
}

// mixed size text (axis titles) running along the given angle
// run = [text, isSubscript, optional offset along the text]
function textRuns(ctx, x, y, angle, family, size, stretch, runs) {
	ctx.save();
	ctx.translate(x, y);
	ctx.rotate(angle);
	ctx.scale(stretch, 1);
	ctx.fillStyle = "#000";
	ctx.textBaseline = "alphabetic";
	ctx.textAlign = "left";
	var pen = 0;
	runs.forEach(function (run) {
		var s = run[1] ? size * 0.7 : size;
		if (run[2] !== undefined) pen = run[2] / stretch;
		ctx.font = s + "px " + family;
		ctx.fillText(run[0], pen, run[1] ? size * 0.19 : 0);
		pen += ctx.measureText(run[0]).width;
	});
	ctx.restore();
}

const mainTitles = {
	id: "mainTitles",
	afterDraw: function (chart) {
		var ctx = chart.ctx;
		textRuns(ctx, 351, 1495, 0, serif, 61, 1, [["log ( time before last model )", false]]);
		textRuns(ctx, 64, 825, -Math.PI / 2, sans, 60, 0.78, [["M", false, 0], ["r", true, 50], ["[", false, 89], ["M", false, 116], ["\u2299", true, 168], ["]", false, 205], [")", false, 228]]);
	},
};

const cbarTitles = {
	id: "cbarTitles",
	afterDraw: function (chart) {
		textRuns(chart.ctx, 235, 840, -Math.PI / 2, sans, 60, 1.03, [["log(", false], ["D", false], ["total", true], [")", false]]);
	},
};

var paintOrder = []
	.concat(bandDatasets(underlay, "x", "y"))
	.concat(bandDatasets(columnsFrom(midEdges, midTopBands), "x", "y"))
	.concat(bandDatasets(columnsFrom(rightEdges, rightTopBands), "x", "y"))
	.concat(bandDatasets(columnsFrom(farEdges, floorBands), "x", "y"))
	.concat(bandDatasets(leftColumns, "x", "y"))
	.concat(bandDatasets(midColumns, "x", "y"))
	.concat(bandDatasets(spikeColumns, "x", "y"))
	.concat(bandDatasets(lowerColumns, "x", "y"))
	.concat(bandDatasets(upperRightColumns, "x", "y"))
	.concat(bandDatasets(seamLine, "x", "y"));

// chart.js paints the last dataset first
var datasets = [
	lineDataset(outerX, outerY, "#000", 9, []),
	lineDataset(coreX, coreY, "#000", 9, [53, 13, 8, 13]),
	lineDataset(markerX, markerY, "#000", 8, [31, 13]),
	lineDataset(heliumX, heliumY, "#0000ff", 7, []),
	lineDataset(ironX, ironY, "#0000ff", 7, []),
].concat(paintOrder.reverse());

new Chart(document.getElementById("main").getContext("2d"), {
	type: "line",
	data: { datasets: datasets },
	plugins: [mainTitles],
	options: {
		responsive: false,
		devicePixelRatio: 1,
		animation: false,
		events: [],
		layout: { padding: 0 },
		plugins: { legend: { display: false }, tooltip: { enabled: false } },
		scales: {
			x: axis("bottom", true, true),
			xTop: axis("top", true, false),
			y: axis("left", false, true),
			yRight: axis("right", false, false),
		},
	},
});

// colorbar, every band runs down to the bottom so no seams show
var cbarBlocks = [];
for (var i = 0; i < colorbarLevels.length - 1; i++) {
	cbarBlocks.push([0, 1, [colorbarLevels[i + 1], (colorbarLevels[i] + colorbarLevels[i + 1]) / 2, 1]]);
}
function cbarLine(xs, ys, fillTo, bg) {
	var d = lineDataset(xs, ys, "#111", fillTo === null ? 2.5 : 0, []);
	d.xAxisID = "cx";
	d.yAxisID = "cy";
	if (fillTo !== null) {
		d.fill = { value: fillTo };
		d.backgroundColor = bg;
	}
	return d;
}
const cbarX = [0, 0.5, 1, 1, 0.5, 0, 0];
const cbarY = [1, 0.286, 1, 15, 15.7, 15, 1];

new Chart(document.getElementById("cbar").getContext("2d"), {
	type: "line",
	data: {
		datasets: [cbarLine(cbarX, cbarY, null)].concat(
			bandDatasets(cbarBlocks, "cx", "cy"),
			[
				cbarLine([0, 0.5, 1], [1, 0.286, 1], 1, "rgb(190,130,255)"),
				cbarLine([0, 0.5, 1], [15, 15.7, 15], 15, "rgb(255,120,120)"),
			]
		),
	},
	plugins: [cbarTitles],
	options: {
		responsive: false,
		devicePixelRatio: 1,
		animation: false,
		events: [],
		layout: { padding: { left: 46, top: 20, bottom: 145 } },
		plugins: { legend: { display: false }, tooltip: { enabled: false } },
		scales: {
			cx: { type: "linear", axis: "x", position: "bottom", display: false, min: 0, max: 1 },
			cy: {
				type: "linear",
				axis: "y",
				position: "right",
				min: 0.286,
				max: 15.7,
				border: { display: false },
				grid: { drawOnChartArea: false, tickLength: -10, tickWidth: 2, tickColor: "#111", z: 1 },
				ticks: {
					stepSize: 2,
					includeBounds: false,
					padding: 22,
					labelOffset: 4,
					color: "#000",
					font: { family: serif, size: 52 },
				},
				afterFit: function (s) {
					s.width = 157;
					s.paddingTop = s.paddingBottom = 0;
				},
			},
		},
	},
});
</script>
</body>
</html>
